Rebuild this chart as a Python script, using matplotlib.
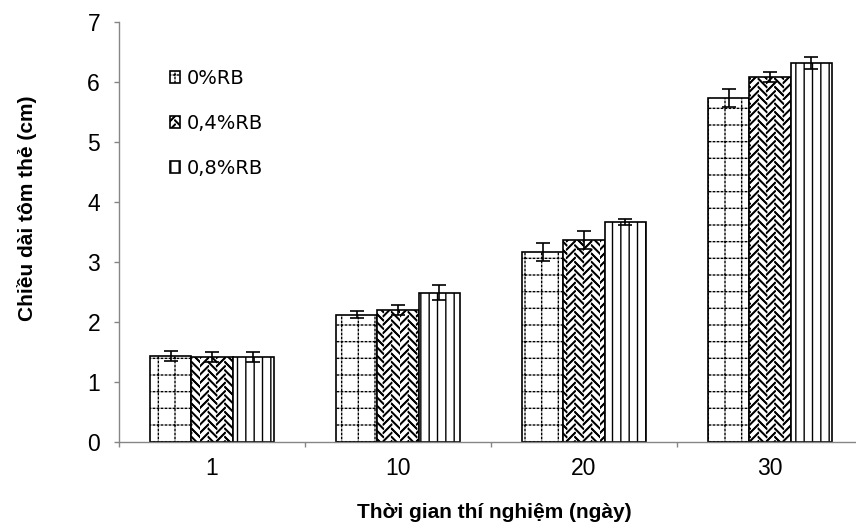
import numpy as np
import matplotlib
matplotlib.use('Agg')
import matplotlib.pyplot as plt
import matplotlib.hatch as mhatch
from matplotlib.path import Path

# ---- data ----
categories = ['1', '10', '20', '30']
series_names = ['0%RB', '0,4%RB', '0,8%RB']
rb00 = [1.43, 2.12, 3.17, 5.74]
rb04 = [1.42, 2.20, 3.37, 6.08]
rb08 = [1.42, 2.49, 3.66, 6.31]
err00 = [0.08, 0.06, 0.15, 0.15]
err04 = [0.08, 0.08, 0.155, 0.08]
err08 = [0.08, 0.12, 0.05, 0.10]
yticks = [0, 1, 2, 3, 4, 5, 6, 7]


# ---- custom hatch patterns (Excel-like) ----
class DottedGridHatch(mhatch.HatchPatternBase):
    def __init__(self, hatch, density):
        self.on = hatch.count('o') > 0
        self.lines = 6
        self.dots = 25
        self.num_vertices = (2 * self.lines * self.dots * 2) if self.on else 0

    def set_vertices_and_codes(self, vertices, codes):
        L, D = self.lines, self.dots
        pos = (np.arange(L) + 0.5) / L
        d = (np.arange(D) + 0.5) / D
        seg = 0.014
        hx = np.tile(d, L)
        hy = np.repeat(pos, D)
        vx = np.repeat(pos, D)
        vy = np.tile(d, L)
        xs0 = np.concatenate([hx - seg / 2, vx])
        xs1 = np.concatenate([hx + seg / 2, vx])
        ys0 = np.concatenate([hy, vy - seg / 2])
        ys1 = np.concatenate([hy, vy + seg / 2])
        vertices[0::2, 0] = xs0
        vertices[0::2, 1] = ys0
        vertices[1::2, 0] = xs1
        vertices[1::2, 1] = ys1
        codes[0::2] = Path.MOVETO
        codes[1::2] = Path.LINETO


class WeaveHatch(mhatch.HatchPatternBase):
    def __init__(self, hatch, density):
        self.on = hatch.count('O') > 0
        self.m = 12
        self.segs = self._segments() if self.on else []
        self.num_vertices = 2 * len(self.segs)

    def _segments(self):
        m = self.m
        s = 1.0 / m
        segs = []
        for i in range(m):
            for j in range(m):
                x0 = i * s
                y0 = j * s + (s / 2 if i % 2 else 0)
                if i % 2 == 0:
                    a, b = (x0, y0), (x0 + s, y0 + s)
                else:
                    a, b = (x0, y0 + s), (x0 + s, y0)
                for dy in (0, -1):
                    for off in (0.0, 0.009):
                        segs.append(((a[0], a[1] + dy + off),
                                     (b[0], b[1] + dy + off)))
        return segs

    def set_vertices_and_codes(self, vertices, codes):
        for k, (a, b) in enumerate(self.segs):
            vertices[2 * k] = a
            vertices[2 * k + 1] = b
        codes[0::2] = Path.MOVETO
        codes[1::2] = Path.LINETO


mhatch._hatch_types = [mhatch.HorizontalHatch, mhatch.VerticalHatch,
                       mhatch.NorthEastHatch, mhatch.SouthEastHatch,
                       DottedGridHatch, WeaveHatch,
                       mhatch.SmallFilledCircles, mhatch.Stars]

plt.rcParams['font.family'] = ['Liberation Sans', 'DejaVu Sans']
plt.rcParams['hatch.linewidth'] = 1.0

fig = plt.figure(figsize=(8.56, 5.23), dpi=100)
ax = fig.add_axes([119 / 856, 81 / 523, 744 / 856, 420 / 523])

x = np.arange(len(categories))
w = 1 / 4.5
values = [rb00, rb04, rb08]
errors = [err00, err04, err08]
hatches = ['o', 'O', '||']
for k in range(3):
    pos = x + (k - 1) * w
    ax.bar(pos, values[k], w, color='white', edgecolor='black', linewidth=1.2,
           hatch=hatches[k], label=series_names[k], zorder=2)
    ax.errorbar(pos, values[k], yerr=errors[k], fmt='none', ecolor='black',
                elinewidth=1.2, capsize=5, capthick=1.2, zorder=3)

gray = '#868686'
for s in ['top', 'right']:
    ax.spines[s].set_visible(False)
for s in ['left', 'bottom']:
    ax.spines[s].set_color(gray)
    ax.spines[s].set_linewidth(1.0)

ax.set_xlim(-0.5, 3.5)
ax.set_ylim(0, 7)
ax.set_yticks(yticks)
ax.tick_params(axis='y', direction='out', length=3.6, width=1, color=gray,
               pad=10, labelsize=16.5)
ax.set_xticks(x, categories)
ax.set_xticks(np.arange(-0.5, 3.6, 1), minor=True)
ax.tick_params(axis='x', which='major', length=0, pad=11, labelsize=16.5)
ax.tick_params(axis='x', which='minor', direction='out', length=3.6, width=1,
               color=gray)

ax.legend(loc='upper left', bbox_to_anchor=(0.0685, 0.888), frameon=False,
          borderpad=0, borderaxespad=0, handlelength=0.52, handleheight=0.52,
          handletextpad=0.35, labelspacing=1.33,
          prop={'family': 'DejaVu Sans', 'size': 14})

ax.set_xlabel('Thời gian thí nghiệm (ngày)', fontsize=15, fontweight='bold',
              va='baseline')
ax.xaxis.set_label_coords(0.504, -0.181)
ax.set_ylabel('Chiều dài tôm thẻ (cm)', fontsize=15, fontweight='bold',
              va='center')
ax.yaxis.set_label_coords(-0.124, 0.557)

fig.savefig('out.png', dpi=100)
